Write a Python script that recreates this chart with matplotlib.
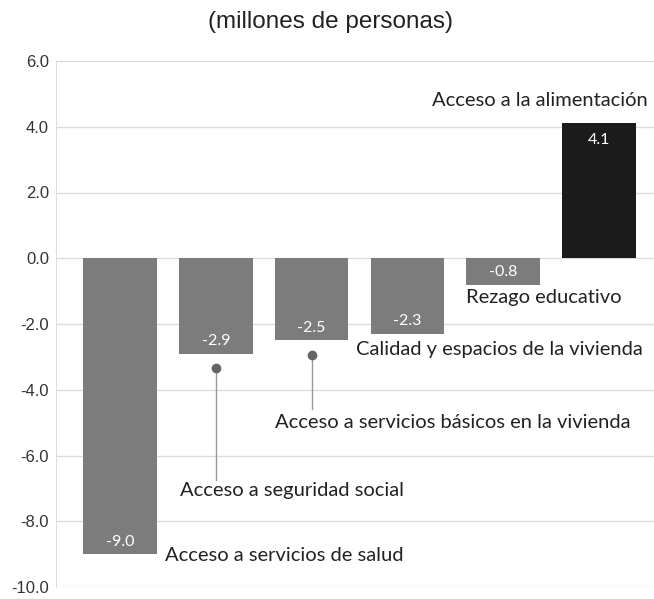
import matplotlib.pyplot as plt

# datos (millones de personas)
categorias = [
    "Acceso a servicios de salud",
    "Acceso a seguridad social",
    "Acceso a servicios básicos en la vivienda",
    "Calidad y espacios de la vivienda",
    "Rezago educativo",
    "Acceso a la alimentación",
]
valores = [-9.0, -2.9, -2.5, -2.3, -0.8, 4.1]
etiquetas = ["-9.0", "-2.9", "-2.5", "-2.3", "-0.8", "4.1"]
yticks = [6.0, 4.0, 2.0, 0.0, -2.0, -4.0, -6.0, -8.0, -10.0]

fig = plt.figure(figsize=(6.54, 5.99), dpi=100)
ax = fig.add_axes([56 / 654, 12 / 599, 598 / 654, 526 / 599])

x = list(range(len(valores)))
colores = ["#7c7c7c"] * 5 + ["#1b1b1b"]
ax.bar(x, valores, width=0.77, color=colores, zorder=3)

ax.set_xlim(-0.668, 5.574)
ax.set_ylim(-10, 6)
ax.set_yticks(yticks)
ax.set_yticklabels([f"{t:.1f}" for t in yticks], family="Liberation Sans",
                   fontsize=12, color="#333333")
ax.tick_params(axis="y", length=0, pad=5)
ax.set_xticks([])
ax.grid(axis="y", color="#dcdcdc", lw=1, zorder=0)
for s in ["top", "right", "bottom"]:
    ax.spines[s].set_visible(False)
ax.spines["left"].set_color("#dcdcdc")

# valores dentro de las barras
for xi, v, lab in zip(x, valores, etiquetas):
    yl = v + 0.38 if v < 0 else v - 0.5
    ax.text(xi, yl, lab, ha="center", va="center", color="white",
            family="Lato", fontsize=11.5, zorder=4)

# nombres de las categorias
tf = dict(family="Lato", fontsize=14.5, color="#222222", va="center")
ax.text(5.51, 4.81, categorias[5], ha="right", **tf)
ax.text(3.61, -1.2, categorias[4], ha="left", **tf)
ax.text(2.46, -2.79, categorias[3], ha="left", **tf)
ax.text(1.62, -5.0, categorias[2], ha="left", **tf)
ax.text(0.63, -7.05, categorias[1], ha="left", **tf)
ax.text(0.47, -9.03, categorias[0], ha="left", **tf)

# lineas guia
ax.plot([1, 1], [-3.34, -6.75], color="#999999", lw=1, zorder=4)
ax.plot(1, -3.34, "o", color="#666666", ms=6, zorder=5)
ax.plot([2, 2], [-2.94, -4.6], color="#999999", lw=1, zorder=4)
ax.plot(2, -2.94, "o", color="#666666", ms=6, zorder=5)

fig.text(331 / 654, 1 - 22 / 599, "(millones de personas)", ha="center", va="center",
         family="Liberation Sans", fontsize=17.5, color="#222222")

fig.savefig("out.png", dpi=100, facecolor="white")
